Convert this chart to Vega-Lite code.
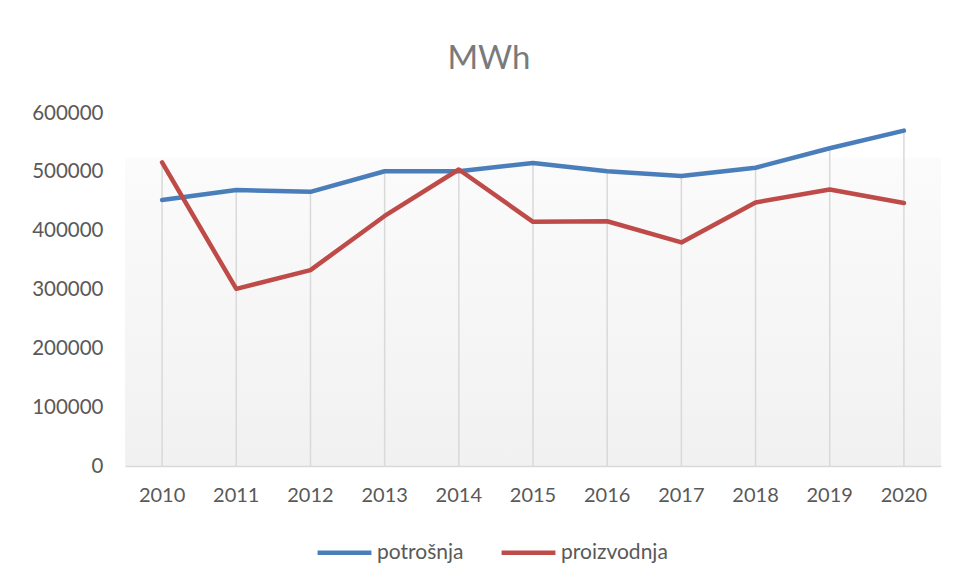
{
  "$schema": "https://vega.github.io/schema/vega-lite/v6.json",
  "autosize": "none",
  "width": 816,
  "height": 353,
  "padding": {"left": 125, "top": 113, "right": 17, "bottom": 114},
  "background": "white",
  "title": {
    "text": "MWh",
    "font": "Lato",
    "fontSize": 33,
    "fontWeight": "normal",
    "color": "#7a7a7a",
    "anchor": "middle",
    "frame": "group",
    "dx": -44,
    "offset": 27
  },
  "data": {
    "values": [
      {"year": "2010", "series": "potrošnja", "value": 452000},
      {"year": "2011", "series": "potrošnja", "value": 469000},
      {"year": "2012", "series": "potrošnja", "value": 466000},
      {"year": "2013", "series": "potrošnja", "value": 501000},
      {"year": "2014", "series": "potrošnja", "value": 501000},
      {"year": "2015", "series": "potrošnja", "value": 515000},
      {"year": "2016", "series": "potrošnja", "value": 501000},
      {"year": "2017", "series": "potrošnja", "value": 493000},
      {"year": "2018", "series": "potrošnja", "value": 507000},
      {"year": "2019", "series": "potrošnja", "value": 540000},
      {"year": "2020", "series": "potrošnja", "value": 570000},
      {"year": "2010", "series": "proizvodnja", "value": 516000},
      {"year": "2011", "series": "proizvodnja", "value": 301000},
      {"year": "2012", "series": "proizvodnja", "value": 333000},
      {"year": "2013", "series": "proizvodnja", "value": 425000},
      {"year": "2014", "series": "proizvodnja", "value": 504000},
      {"year": "2015", "series": "proizvodnja", "value": 415000},
      {"year": "2016", "series": "proizvodnja", "value": 416000},
      {"year": "2017", "series": "proizvodnja", "value": 380000},
      {"year": "2018", "series": "proizvodnja", "value": 448000},
      {"year": "2019", "series": "proizvodnja", "value": 470000},
      {"year": "2020", "series": "proizvodnja", "value": 447000}
    ]
  },
  "layer": [
    {
      "transform": [
        {"aggregate": [{"op": "max", "field": "value", "as": "top"}], "groupby": ["year"]}
      ],
      "mark": {"type": "rule", "color": "#d9d9d9", "strokeWidth": 1.5},
      "encoding": {
        "x": {"field": "year", "type": "ordinal"},
        "y": {"field": "top", "type": "quantitative"},
        "y2": {"datum": 0}
      }
    },
    {
      "mark": {"type": "line", "strokeWidth": 4.5, "strokeCap": "round", "strokeJoin": "round"},
      "encoding": {
        "x": {
          "field": "year",
          "type": "ordinal",
          "scale": {"type": "band", "paddingInner": 0, "paddingOuter": 0},
          "axis": {
            "title": null,
            "labelAngle": 0,
            "labelAlign": "center",
            "ticks": false,
            "grid": false,
            "domainColor": "#d9d9d9",
            "domainWidth": 1.5,
            "labelFont": "Lato",
            "labelFontSize": 20,
            "labelColor": "#595959",
            "labelPadding": 29,
            "bandPosition": 0.5
          }
        },
        "y": {
          "field": "value",
          "type": "quantitative",
          "scale": {"domain": [0, 600000], "nice": false},
          "axis": {
            "title": null,
            "values": [0, 100000, 200000, 300000, 400000, 500000, 600000],
            "format": "d",
            "grid": false,
            "ticks": false,
            "domain": false,
            "labelFont": "Lato",
            "labelFontSize": 20.5,
            "labelColor": "#595959",
            "labelPadding": 22
          }
        },
        "color": {
          "field": "series",
          "type": "nominal",
          "scale": {"domain": ["potrošnja", "proizvodnja"], "range": ["#4a7ebb", "#be4b48"]},
          "legend": {
            "title": null,
            "orient": "none",
            "direction": "horizontal",
            "legendX": 190,
            "legendY": 410,
            "symbolType": "stroke",
            "symbolSize": 2900,
            "symbolStrokeWidth": 4.5,
            "labelFont": "Lato",
            "labelFontSize": 21,
            "labelColor": "#595959",
            "labelOffset": 3,
            "columnPadding": 28
          }
        }
      }
    }
  ],
  "config": {
    "view": {
      "stroke": null,
      "fill": {
        "gradient": "linear",
        "x1": 0, "y1": 0, "x2": 0, "y2": 1,
        "stops": [
          {"offset": 0, "color": "#ffffff"},
          {"offset": 0.125, "color": "#ffffff"},
          {"offset": 0.13, "color": "#fbfbfb"},
          {"offset": 1, "color": "#f1f1f1"}
        ]
      }
    }
  }
}
